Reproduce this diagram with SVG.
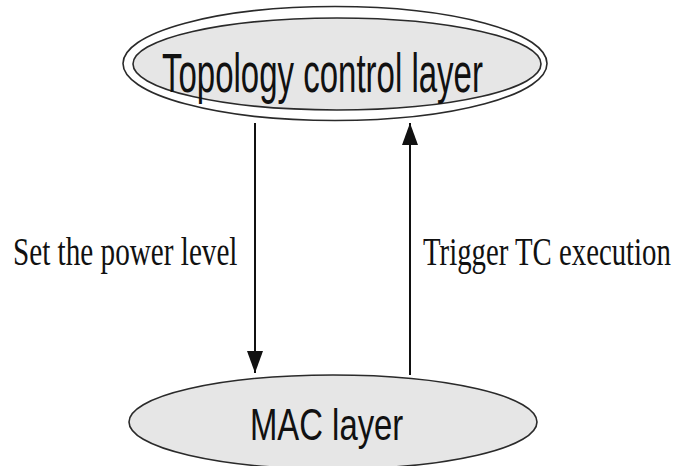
<svg xmlns="http://www.w3.org/2000/svg" width="675" height="466" viewBox="0 0 675 466">
  <style>
    .layer { fill: #e6e6e6; stroke: #2a2a2a; stroke-width: 1.6; }
    .ring { fill: none; stroke: #2a2a2a; stroke-width: 1.6; }
    .title { font-family: "Liberation Sans", Arial, sans-serif; fill: #111; }
    .label { font-family: "Liberation Serif", "Times New Roman", serif; fill: #111; }
    .link { stroke: #111; stroke-width: 2; fill: none; }
  </style>
  <defs>
    <marker id="head" viewBox="0 0 22 16" refX="22" refY="8" markerWidth="22" markerHeight="16" markerUnits="userSpaceOnUse" orient="auto">
      <path d="M0,0 L22,8 L0,16 Z" fill="#111"/>
    </marker>
  </defs>

  <rect width="675" height="466" fill="#fff"/>

  <g id="topology-control-layer">
    <ellipse class="ring" cx="335" cy="63.5" rx="212" ry="57"/>
    <ellipse class="layer" cx="337" cy="64" rx="204" ry="46"/>
    <!-- narrow lettering: horizontal squeeze of the sans face -->
    <text class="title" transform="translate(162 92) scale(0.6 1)" font-size="55">Topology control layer</text>
  </g>

  <g id="mac-layer">
    <ellipse class="layer" cx="333" cy="422" rx="204" ry="47"/>
    <text class="title" transform="translate(250 440) scale(0.73 1)" font-size="45">MAC layer</text>
  </g>

  <g id="connectors">
    <line class="link" x1="255" y1="123" x2="255" y2="373" marker-end="url(#head)"/>
    <line class="link" x1="410" y1="375" x2="410" y2="123" marker-end="url(#head)"/>
  </g>

  <g id="labels">
    <text class="label" transform="translate(13 265) scale(0.73 1)" font-size="40">Set the power level</text>
    <text class="label" transform="translate(423 265) scale(0.72 1)" font-size="40">Trigger TC execution</text>
  </g>
</svg>
